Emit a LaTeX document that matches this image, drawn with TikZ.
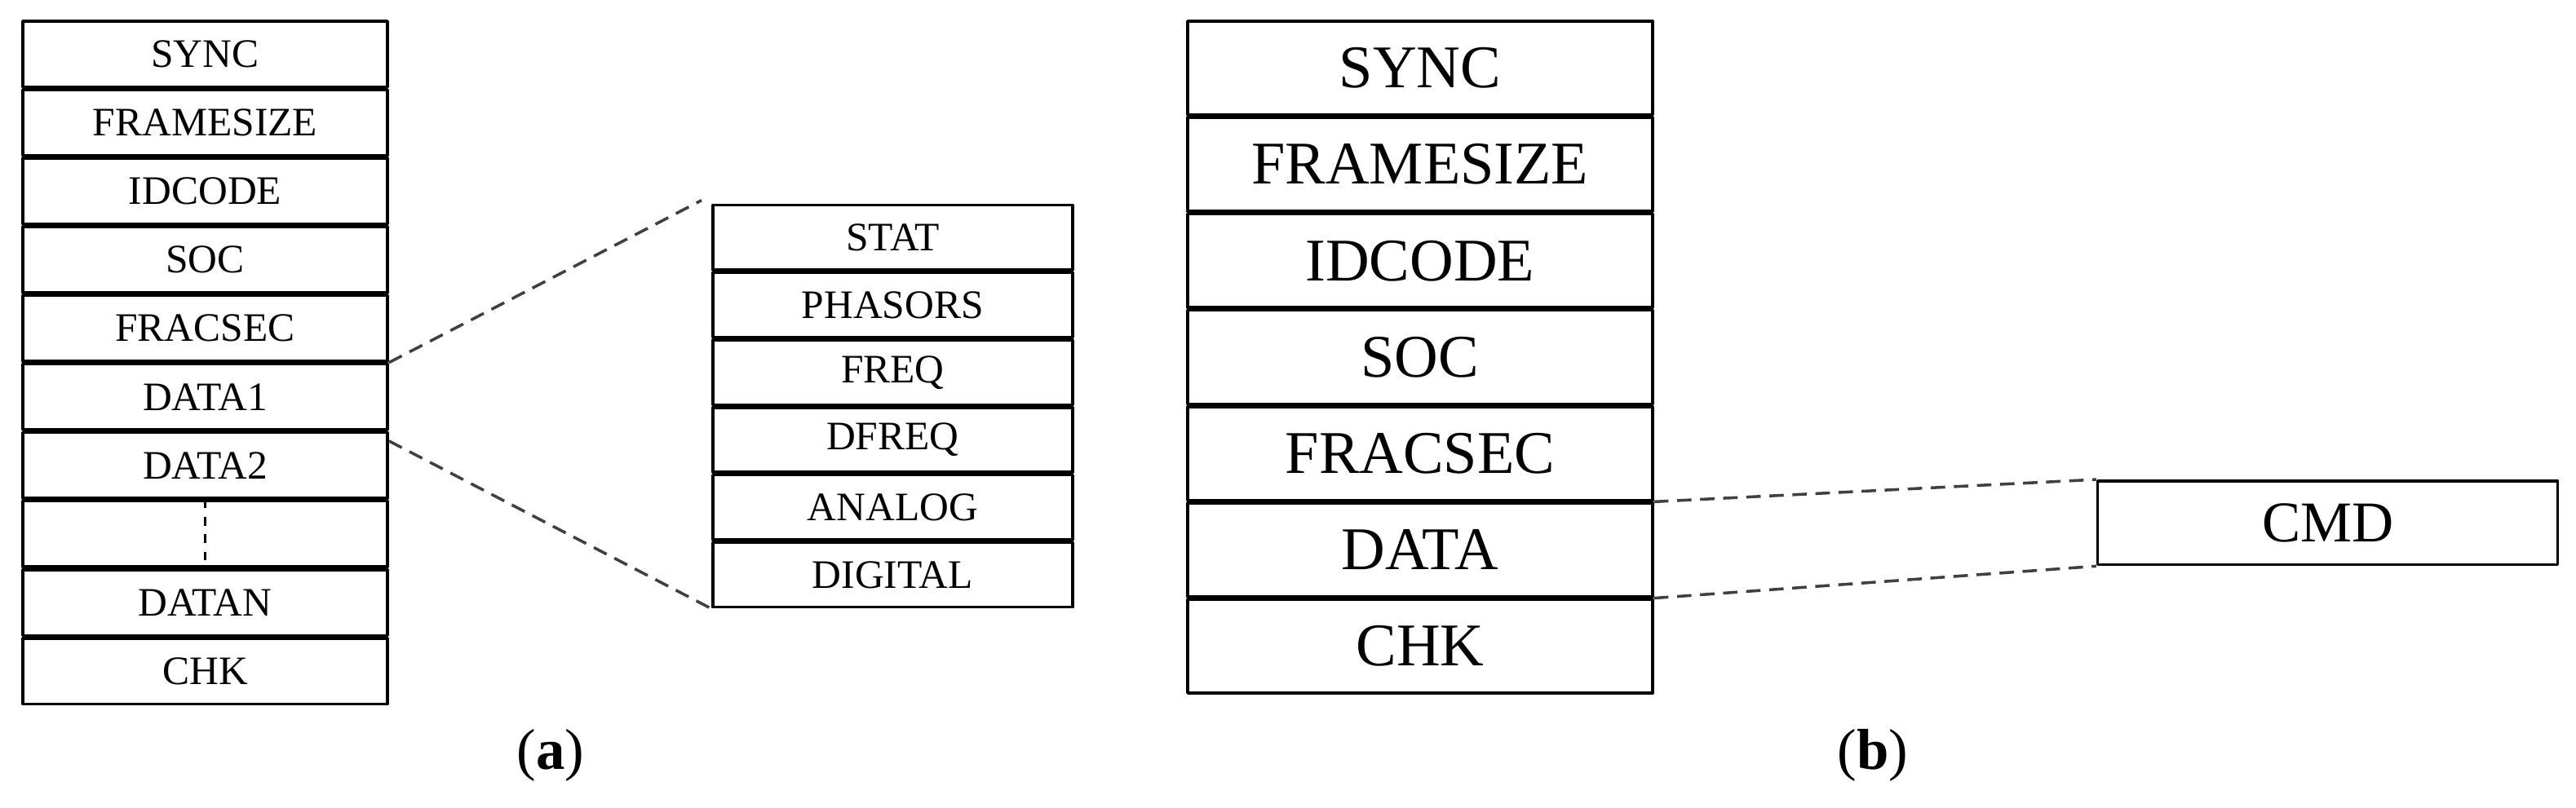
\documentclass[tikz,border=0pt]{standalone}
\usepackage{fontspec}
\setmainfont{Liberation Serif}
\usetikzlibrary{positioning}
\tikzset{
  fld/.style={draw,line width=1pt,minimum width=4.44cm,minimum height=0.8cm,inner sep=0pt,font=\fontsize{14}{14}\selectfont},
  sub/.style={fld,minimum width=4.38cm,minimum height=0.787cm},
  big/.style={fld,minimum width=5.66cm,minimum height=1.139cm,font=\fontsize{21}{21}\selectfont},
  zoomline/.style={dashed,line width=1pt,black!75,dash pattern=on 5pt off 3pt}
}
\begin{document}
\begin{tikzpicture}[join=round,node distance=0pt] % frame layouts
    \useasboundingbox (0,0) rectangle (31.36,9.84);
    % (a) data frame
    \node[fld,anchor=north west] (a1) at (0.26,9.6) {SYNC};
    \node[fld,below=of a1] (a2) {FRAMESIZE};
    \node[fld,below=of a2] (a3) {IDCODE};
    \node[fld,below=of a3] (a4) {SOC};
    \node[fld,below=of a4] (a5) {FRACSEC};
    \node[fld,below=of a5] (a6) {DATA1};
    \node[fld,below=of a6] (a7) {DATA2};
    \node[fld,below=of a7] (a8) {};
    \node[fld,below=of a8] (a9) {DATAN};
    \node[fld,below=of a9] (a10) {CHK};
    \draw[dashed,line width=1pt] (a8.north) -- (a8.south);
    % data block
    \node[sub,anchor=north west] (d1) at (8.66,7.36) {STAT};
    \node[sub,below=of d1] (d2) {PHASORS};
    \node[sub,below=of d2] (d3) {FREQ};
    \node[sub,below=of d3] (d4) {DFREQ};
    \node[sub,below=of d4] (d5) {ANALOG};
    \node[sub,below=of d5] (d6) {DIGITAL};
    \draw[zoomline] (a6.north east) -- ([xshift=-0.12cm,yshift=0.04cm]d1.north west);
    \draw[zoomline] ([yshift=-0.12cm]a7.north east) -- (d6.south west);
    % (b) command frame
    \node[big,anchor=north west] (b1) at (14.44,9.6) {SYNC};
    \node[big,below=of b1] (b2) {FRAMESIZE};
    \node[big,below=of b2] (b3) {IDCODE};
    \node[big,below=of b3] (b4) {SOC};
    \node[big,below=of b4] (b5) {FRACSEC};
    \node[big,below=of b5] (b6) {DATA};
    \node[big,below=of b6] (b7) {CHK};
    \node[fld,minimum width=5.6cm,minimum height=1.02cm,font=\fontsize{20}{20}\selectfont,anchor=north west] (cmd) at (25.52,4.0) {CMD};
    \draw[zoomline] (b6.north east) -- (cmd.north west);
    \draw[zoomline] (b6.south east) -- (cmd.south west);
    % captions
    \node[font=\fontsize{20}{20}\selectfont] (capa) at (6.7,0.64) {(\textbf{a})};
    \node[font=\fontsize{20}{20}\selectfont] (capb) at (22.8,0.64) {(\textbf{b})};
\end{tikzpicture}
\end{document}
